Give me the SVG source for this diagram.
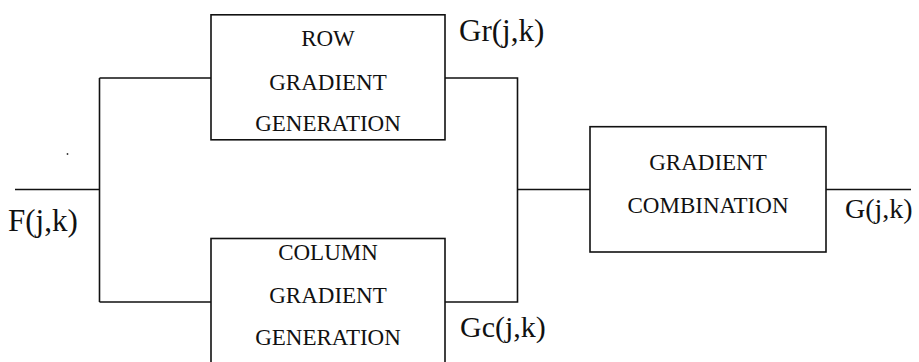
<svg xmlns="http://www.w3.org/2000/svg" width="919" height="362" viewBox="0 0 919 362">
<rect width="919" height="362" fill="#fff"/>
<g id="connectors" fill="none" stroke="#111" stroke-width="1.6">
<path d="M15,189.5 H99.5"/>
<path d="M99.5,78 V302 M99.5,78 H211 M99.5,302 H211"/>
<path d="M445,78 H517.5 V302 H445"/>
<path d="M517.5,189.5 H590"/>
<path d="M826,189.5 H911"/>
</g>
<g id="row">
<rect x="211" y="14.8" width="234" height="125" fill="#fff" stroke="#111" stroke-width="1.6"/>
<text x="328" y="46" font-family="Liberation Serif, serif" font-size="23" text-anchor="middle" fill="#111">ROW</text>
<text x="328" y="89.5" font-family="Liberation Serif, serif" font-size="23" text-anchor="middle" fill="#111">GRADIENT</text>
<text x="328" y="131" font-family="Liberation Serif, serif" font-size="23" text-anchor="middle" fill="#111">GENERATION</text>
</g>
<g id="column">
<rect x="211" y="238.5" width="234" height="140" fill="#fff" stroke="#111" stroke-width="1.6"/>
<text x="328" y="260" font-family="Liberation Serif, serif" font-size="23" text-anchor="middle" fill="#111">COLUMN</text>
<text x="328" y="303" font-family="Liberation Serif, serif" font-size="23" text-anchor="middle" fill="#111">GRADIENT</text>
<text x="328" y="345" font-family="Liberation Serif, serif" font-size="23" text-anchor="middle" fill="#111">GENERATION</text>
</g>
<g id="combination">
<rect x="590" y="126.7" width="236" height="125.3" fill="#fff" stroke="#111" stroke-width="1.6"/>
<text x="708" y="169.5" font-family="Liberation Serif, serif" font-size="23" text-anchor="middle" fill="#111">GRADIENT</text>
<text x="708" y="212.5" font-family="Liberation Serif, serif" font-size="23" text-anchor="middle" fill="#111">COMBINATION</text>
</g>
<g id="labels">
<text x="8" y="231" font-family="Liberation Serif, serif" font-size="31" fill="#111">F(j,k)</text>
<text x="459" y="41" font-family="Liberation Serif, serif" font-size="31" fill="#111">Gr(j,k)</text>
<text x="460" y="337" font-family="Liberation Serif, serif" font-size="30" fill="#111">Gc(j,k)</text>
<text x="845" y="218" font-family="Liberation Serif, serif" font-size="28" fill="#111">G(j,k)</text>
<circle cx="67.5" cy="154" r="0.9" fill="#333"/>
</g>
</svg>
